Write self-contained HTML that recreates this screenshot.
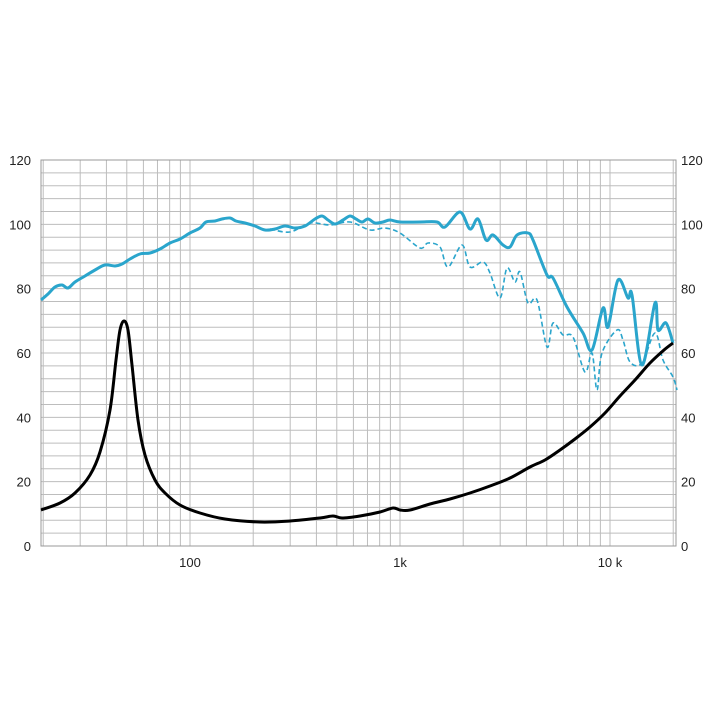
<!DOCTYPE html><html><head><meta charset="utf-8"><style>body{margin:0;background:#fff}svg{display:block}</style></head><body>
<svg id="s" width="720" height="720" xmlns="http://www.w3.org/2000/svg" font-family="Liberation Sans, sans-serif" font-size="13" fill="#222">
<g id="grid" stroke="#bdbdbd" stroke-width="1"></g>
<rect x="41" y="160" width="635" height="386" fill="none" stroke="#999"/>
<g id="lab"></g>
<path id="p1" fill="none" stroke="#2aa5cc" stroke-width="1.6" stroke-dasharray="5,3"/>
<path id="p2" fill="none" stroke="#2aa5cc" stroke-width="3" stroke-linejoin="round"/>
<path id="p3" fill="none" stroke="#000" stroke-width="3" stroke-linejoin="round"/>
</svg>
<script>
var g=document.getElementById('grid'),L=document.getElementById('lab'),ns='http://www.w3.org/2000/svg';
function el(p,t,a,txt){var e=document.createElementNS(ns,t);for(var k in a)e.setAttribute(k,a[k]);if(txt)e.textContent=txt;p.appendChild(e);}
for(var v=0;v<=120;v+=4){var y=546-v*386/120;el(g,'line',{x1:41,x2:676,y1:y,y2:y});
if(v%20==0){el(L,'text',{x:31,y:y+5,'text-anchor':'end'},''+v);el(L,'text',{x:681,y:y+5},''+v);}}
var d=[10,100,1000,10000];d.forEach(function(b){for(var m=1;m<10;m++){var f=b*m;if(f<20||f>20000)continue;var x=190+210*Math.log10(f/100);el(g,'line',{x1:x,x2:x,y1:160,y2:546});}});
el(g,'line',{x1:676,x2:676,y1:160,y2:546});
[['100',190],['1k',400],['10 k',610]].forEach(function(a){el(L,'text',{x:a[1],y:567,'text-anchor':'middle'},a[0]);});
function cr(s){var p=s.trim().split(/\s+/).map(function(q){return q.split(',').map(Number);});var d='M'+p[0][0]+','+p[0][1];
for(var i=0;i<p.length-1;i++){var a=p[i-1]||p[i],b=p[i],c=p[i+1],e=p[i+2]||c;var t=0.5/3;
d+=' C'+(b[0]+(c[0]-a[0])*t)+','+(b[1]+(c[1]-a[1])*t)+' '+(c[0]-(e[0]-b[0])*t)+','+(c[1]-(e[1]-b[1])*t)+' '+c[0]+','+c[1];}return d;}
document.getElementById('p1').setAttribute('d',cr("270,229 290,232 310,223 330,225 350,222 370,230 385,228 400,233 420,248 428,243 440,247 448,267 462,245 470,267 483,262 490,273 500,298 507,268 515,282 520,272 528,303 537,300 547,347 553,323 563,335 573,337 585,372 592,353 597,390 602,353 617,330 623,340 630,362 642,363 655,333 663,360 673,377 677,390"));
document.getElementById('p2').setAttribute('d',cr("41,300 48,294 55,287 62,285 68,288 75,282 85,276 95,270 105,265 115,266 122,264 130,259 140,254 150,253 160,249 170,243 180,239 190,233 200,228 206,222 215,221 222,219 230,218 236,221 245,223 255,226 265,230 275,229 285,226 295,228 305,226 315,219 322,216 328,220 335,224 343,220 350,216 356,219 362,222 368,219 375,223 383,222 390,220 400,222 420,222 437,222 445,227 460,212 470,229 478,219 486,240 493,235 503,245 510,247 517,235 528,233 533,240 547,275 553,278 567,307 583,333 592,350 603,308 608,327 618,280 628,298 632,295 642,365 655,303 658,330 666,323 673,343"));
document.getElementById('p3').setAttribute('d',cr("41,510 60,503 75,493 90,475 100,452 110,410 116,360 120,330 124,321 128,330 132,365 138,420 145,455 155,480 165,493 180,505 200,513 225,519 260,522 290,521 320,518 333,516 342,518 360,516 380,512 393,508 400,510 410,510 430,504 450,499 470,493 490,486 510,478 530,467 545,460 560,450 575,439 590,427 605,413 620,396 635,380 650,363 664,350 673,343"));
</script>
</body></html>
